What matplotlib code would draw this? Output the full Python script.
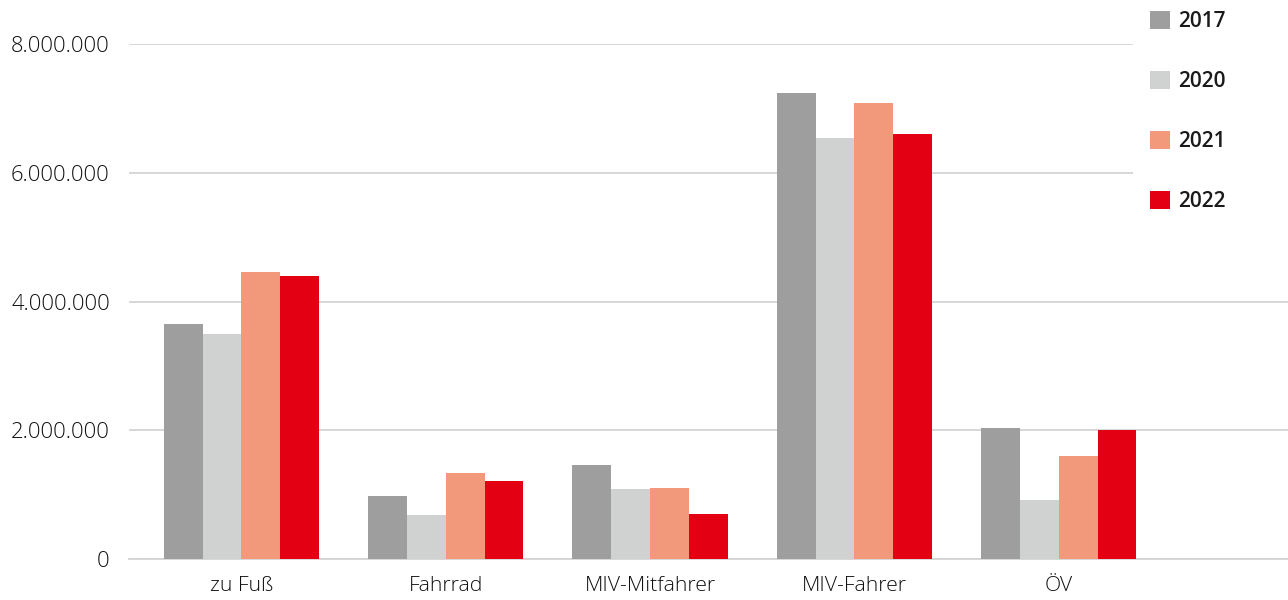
import numpy as np
import matplotlib.pyplot as plt
from matplotlib.patches import Rectangle
from matplotlib.ticker import FuncFormatter

categories = ["zu Fuß", "Fahrrad", "MIV-Mitfahrer", "MIV-Fahrer", "ÖV"]
years = ["2017", "2020", "2021", "2022"]
values_2017 = [3655000, 984000, 1460000, 7240000, 2035000]
values_2020 = [3500000, 689000, 1090000, 6540000, 917000]
values_2021 = [4465000, 1336000, 1100000, 7085000, 1600000]
values_2022 = [4400000, 1212000, 700000, 6600000, 2000000]
colors = ["#9d9e9d", "#d0d2d1", "#f2997b", "#e30012"]

plt.rcParams["font.family"] = ["Open Sans", "DejaVu Sans"]

W, H = 1288, 600
fig = plt.figure(figsize=(W / 100, H / 100), dpi=100)
ax = fig.add_axes([129.3 / W, 40.7 / H, 1 - 129.3 / W, (559.3 - 44) / H])

x = np.arange(len(categories))
width = 0.19
series = [values_2017, values_2020, values_2021, values_2022]
for i, (vals, col, yr) in enumerate(zip(series, colors, years)):
    ax.bar(x + (i - 1.5) * width, vals, width, color=col, label=yr, zorder=3)

ax.set_xlim(-0.549, 5.122)
ax.set_ylim(0, 8000000)
ax.set_yticks([0, 2000000, 4000000, 6000000, 8000000])
ax.yaxis.set_major_formatter(FuncFormatter(lambda v, p: f"{int(v):,}".replace(",", ".")))
ax.set_xticks(x)
ax.set_xticklabels(categories)

ax.grid(axis="y", color="#d4d4d4", linewidth=1.3, zorder=0)
for s in ["top", "right", "left"]:
    ax.spines[s].set_visible(False)
ax.spines["bottom"].set_color("#d4d4d4")
ax.spines["bottom"].set_linewidth(1.3)
ax.tick_params(axis="both", length=0, colors="#111111")
ax.tick_params(axis="y", pad=14, labelsize=15.8)
ax.tick_params(axis="x", pad=12, labelsize=15.3)
for lbl in ax.get_yticklabels() + ax.get_xticklabels():
    lbl.set_fontweight("light")

# white block behind the legend hides the top gridlines
fig.patches.append(Rectangle((1133 / W, 1 - 215 / H), 155 / W, 215 / H,
                             transform=fig.transFigure, facecolor="white",
                             edgecolor="none", zorder=5))

leg = fig.legend(loc="upper left", bbox_to_anchor=(1142 / W, 1 - 3 / H),
                 frameon=False, handlelength=0.92, handleheight=0.92,
                 handletextpad=0.4, labelspacing=1.87, borderpad=0.4,
                 borderaxespad=0, prop={"size": 15, "weight": "semibold"})
leg.set_zorder(6)
for t in leg.get_texts():
    t.set_color("#1a1a1a")

fig.savefig("out.png", dpi=100)
